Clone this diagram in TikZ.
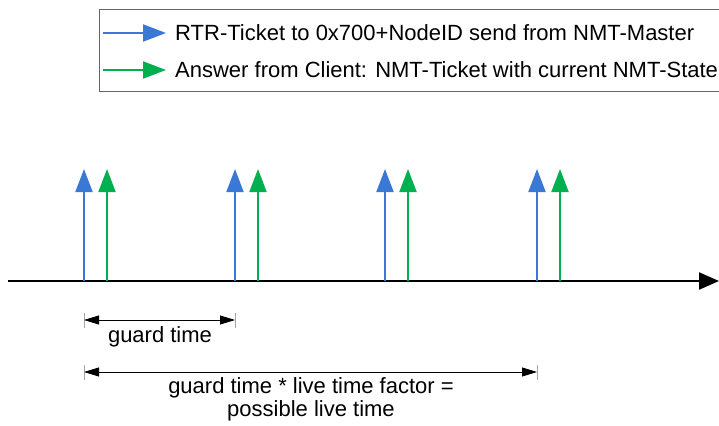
\documentclass[tikz,border=0pt]{standalone}
\usepackage{fontspec}
\setmainfont{Liberation Sans}
\usetikzlibrary{arrows.meta}
\definecolor{rtrblue}{HTML}{3A78D6}
\definecolor{ansgreen}{HTML}{00B050}
\begin{document}
\begin{tikzpicture}[x=1pt,y=-1pt,
  sig/.style={line width=2pt,-{Triangle[width=17pt,length=23pt]}},
  rtr/.style={sig,draw=rtrblue,fill=rtrblue},
  ans/.style={sig,draw=ansgreen,fill=ansgreen},
  lbl/.style={font=\fontsize{22}{24}\selectfont,inner sep=0pt},
  dim/.style={line width=0.8pt,{Triangle[width=9pt,length=15pt]}-{Triangle[width=9pt,length=15pt]}},
  tick/.style={draw=gray!70,line width=0.8pt}]
\useasboundingbox (0,0) rectangle (719,425);
% legend
\draw[draw=gray!80!black,line width=1pt] (99,10) rectangle (740,92);
\coordinate (l1a) at (103,33); \coordinate (l1b) at (166,33);
\coordinate (l2a) at (103,70); \coordinate (l2b) at (166,70);
\draw[rtr] (l1a) -- (l1b);
\draw[ans] (l2a) -- (l2b);
\node[lbl,anchor=west] (t1) at (175,33) {RTR-Ticket to 0x700+NodeID send from NMT-Master};
\node[lbl,anchor=west] (t2) at (175,70) {Answer from Client: NMT-Ticket with current NMT-State};
% axis
\coordinate (ax0) at (8,281); \coordinate (ax1) at (719,281);
\draw[line width=2.3pt,-{Triangle[width=17pt,length=20pt]}] (ax0) -- (ax1);
% signals
\foreach \i/\xb/\xg in {1/84/107,2/235/258,3/385/408,4/537/560}{
  \coordinate (b\i) at (\xb,281); \coordinate (bt\i) at (\xb,169);
  \coordinate (g\i) at (\xg,281); \coordinate (gt\i) at (\xg,169);
  \draw[rtr] (b\i) -- (bt\i);
  \draw[ans] (g\i) -- (gt\i);
}
% dimension lines
\coordinate (d1a) at (84,320); \coordinate (d1b) at (235,320);
\draw[tick] (84,313) -- (84,328) (235,313) -- (235,328);
\draw[dim] (d1a) -- (d1b);
\node[lbl] (gt) at (160,337) {guard time};
\coordinate (d2a) at (84,372); \coordinate (d2b) at (537,372);
\draw[tick] (84,365) -- (84,380) (537,365) -- (537,380);
\draw[dim] (d2a) -- (d2b);
\node[lbl,align=center] (lt) at (311,399) {guard time * live time factor =\\[-1pt]possible live time};
\end{tikzpicture}
\end{document}
